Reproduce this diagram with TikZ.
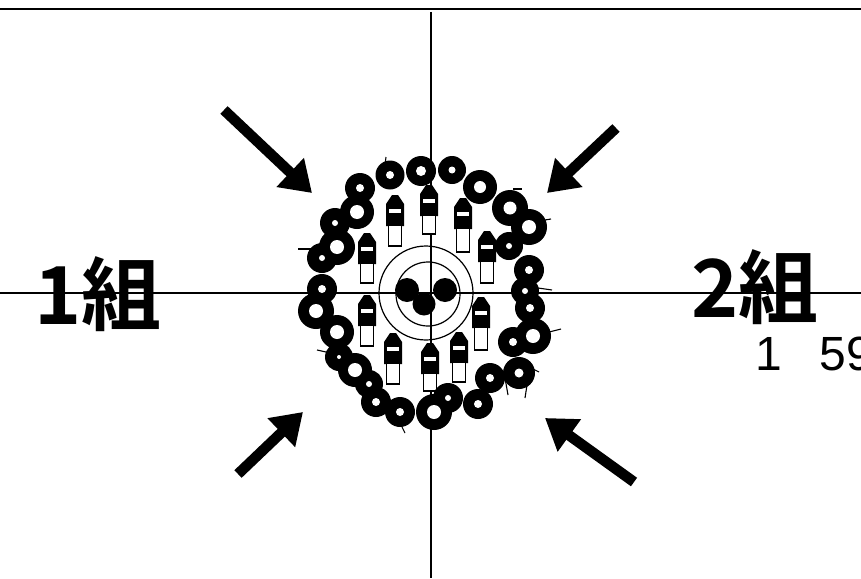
\documentclass[tikz,border=0pt]{standalone}
\usepackage{fontspec}
\setmainfont{Liberation Sans}
\newfontfamily\cjkfont{Noto Sans CJK JP Bold}
\usetikzlibrary{arrows.meta}
\tikzset{
  asse/.style={line width=1.4pt, black},
  freccia/.style={line width=10.5pt, black, -{Triangle[length=30pt,width=38pt]}},
  sfilo/.style={line width=1.1pt, black},
  gruppo/.style={font=\cjkfont\fontsize{80}{80}\selectfont, inner sep=0pt, anchor=center}
}
\newcommand{\fusibile}[3]{%
  \fill[black] (#1-9,#2+9) -- (#1-3,#2) -- (#1+3,#2) -- (#1+9,#2+9) -- (#1+9,#2+31) -- (#1-9,#2+31) -- cycle;
  \fill[white] (#1-6,#2+14) rectangle (#1+6,#2+18);
  \draw[line width=1.4pt, fill=white] (#1-6.5,#2+30) rectangle (#1+6.5,#3);
}
\begin{document}
\begin{tikzpicture}[x=1pt,y=-1pt]
  \path[use as bounding box] (0,0) rectangle (861,578);
  \clip (0,0) rectangle (861,578);
  \fill[white] (0,0) rectangle (861,578);

  % Bordo e assi
  \draw[asse] (0,9) -- (861,9);
  \draw[asse] (0,293) -- (861,293);
  \draw[asse] (431,12) -- (431,578);

  % Cerchi centrali
  \draw[line width=1.2pt] (426,293) circle (47);
  \draw[line width=1.2pt] (428,294) circle (32);
  \fill (407,290) circle (12);
  \fill (445,290) circle (12);
  \fill (424,304) circle (11.5);

  % Elementi interni
  \fusibile{367}{233}{283}
  \fusibile{395}{195}{246}
  \fusibile{429}{185}{234}
  \fusibile{463}{198}{252}
  \fusibile{487}{231}{283}
  \fusibile{481}{297}{350}
  \fusibile{459}{332}{382}
  \fusibile{430}{343}{391}
  \fusibile{393}{333}{384}
  \fusibile{367}{295}{346}

  % Anelli esterni
  \foreach \x/\y/\ro in {360/188/15, 357/212/17, 335/223/15, 337/247/18, 322/258/15,
    390/175/14.5, 421/171/15, 452/170/14, 480/187/17, 510/208/18, 529/227/18, 509/246/14,
    529/270/15, 525/291/14, 530/308/15, 533/336/18, 513/342/15, 519/373/16, 490/378/15,
    478/404/15, 448/398/15, 434/412/18, 400/412/15, 376/402/15, 369/384/14, 355/370/17,
    339/357/14, 337/332/17, 316/311/18, 322/289/15}
    \fill (\x,\y) circle (\ro);
  \foreach \x/\y/\ri in {360/188/4, 357/212/7, 335/223/3, 337/247/7, 322/258/3,
    390/175/4, 421/171/5, 452/170/3.5, 480/187/6, 510/208/6.5, 529/227/7, 509/246/3,
    529/270/4, 525/291/3, 530/308/4, 533/336/7, 513/342/4, 519/373/4.5, 490/378/4,
    478/404/4, 448/398/3, 434/412/7, 400/412/4, 376/402/4, 369/384/3, 355/370/7,
    339/357/2, 337/332/7, 316/311/7, 322/289/4}
    \fill[white] (\x,\y) circle (\ri);

  % Fili sottili
  \draw[sfilo] (298,249) -- (318,249);
  \draw[sfilo] (385,165) -- (386,157);
  \draw[sfilo] (513,189) -- (522,189);
  \draw[sfilo] (545,220) -- (551,219);
  \draw[sfilo] (545,333) -- (561,329);
  \draw[sfilo] (538,288) -- (552,290);
  \draw[sfilo] (533,369) -- (539,372);
  \draw[sfilo] (505,378) -- (508,395);
  \draw[sfilo] (527,385) -- (525,398);
  \draw[sfilo] (317,350) -- (326,352);
  \draw[sfilo] (402,427) -- (405,433);

  % Frecce
  \coordinate (nwa) at (224,110);
  \coordinate (nwb) at (312,193);
  \coordinate (nea) at (616,128);
  \coordinate (neb) at (547,193);
  \coordinate (swa) at (238,474);
  \coordinate (swb) at (303,412);
  \coordinate (sea) at (634,482);
  \coordinate (seb) at (545,418);
  \draw[freccia] (nwa) -- (nwb);
  \draw[freccia] (nea) -- (neb);
  \draw[freccia] (swa) -- (swb);
  \draw[freccia] (sea) -- (seb);

  % Testi
  \node[gruppo] (gruppouno) at (98,294) {1組};
  \node[gruppo] (gruppodue) at (755,287) {2組};
  \node[font=\fontsize{48}{48}\selectfont, anchor=base west, inner sep=0pt] (dati) at (755,370) {1\hspace{38pt}59};
\end{tikzpicture}
\end{document}
